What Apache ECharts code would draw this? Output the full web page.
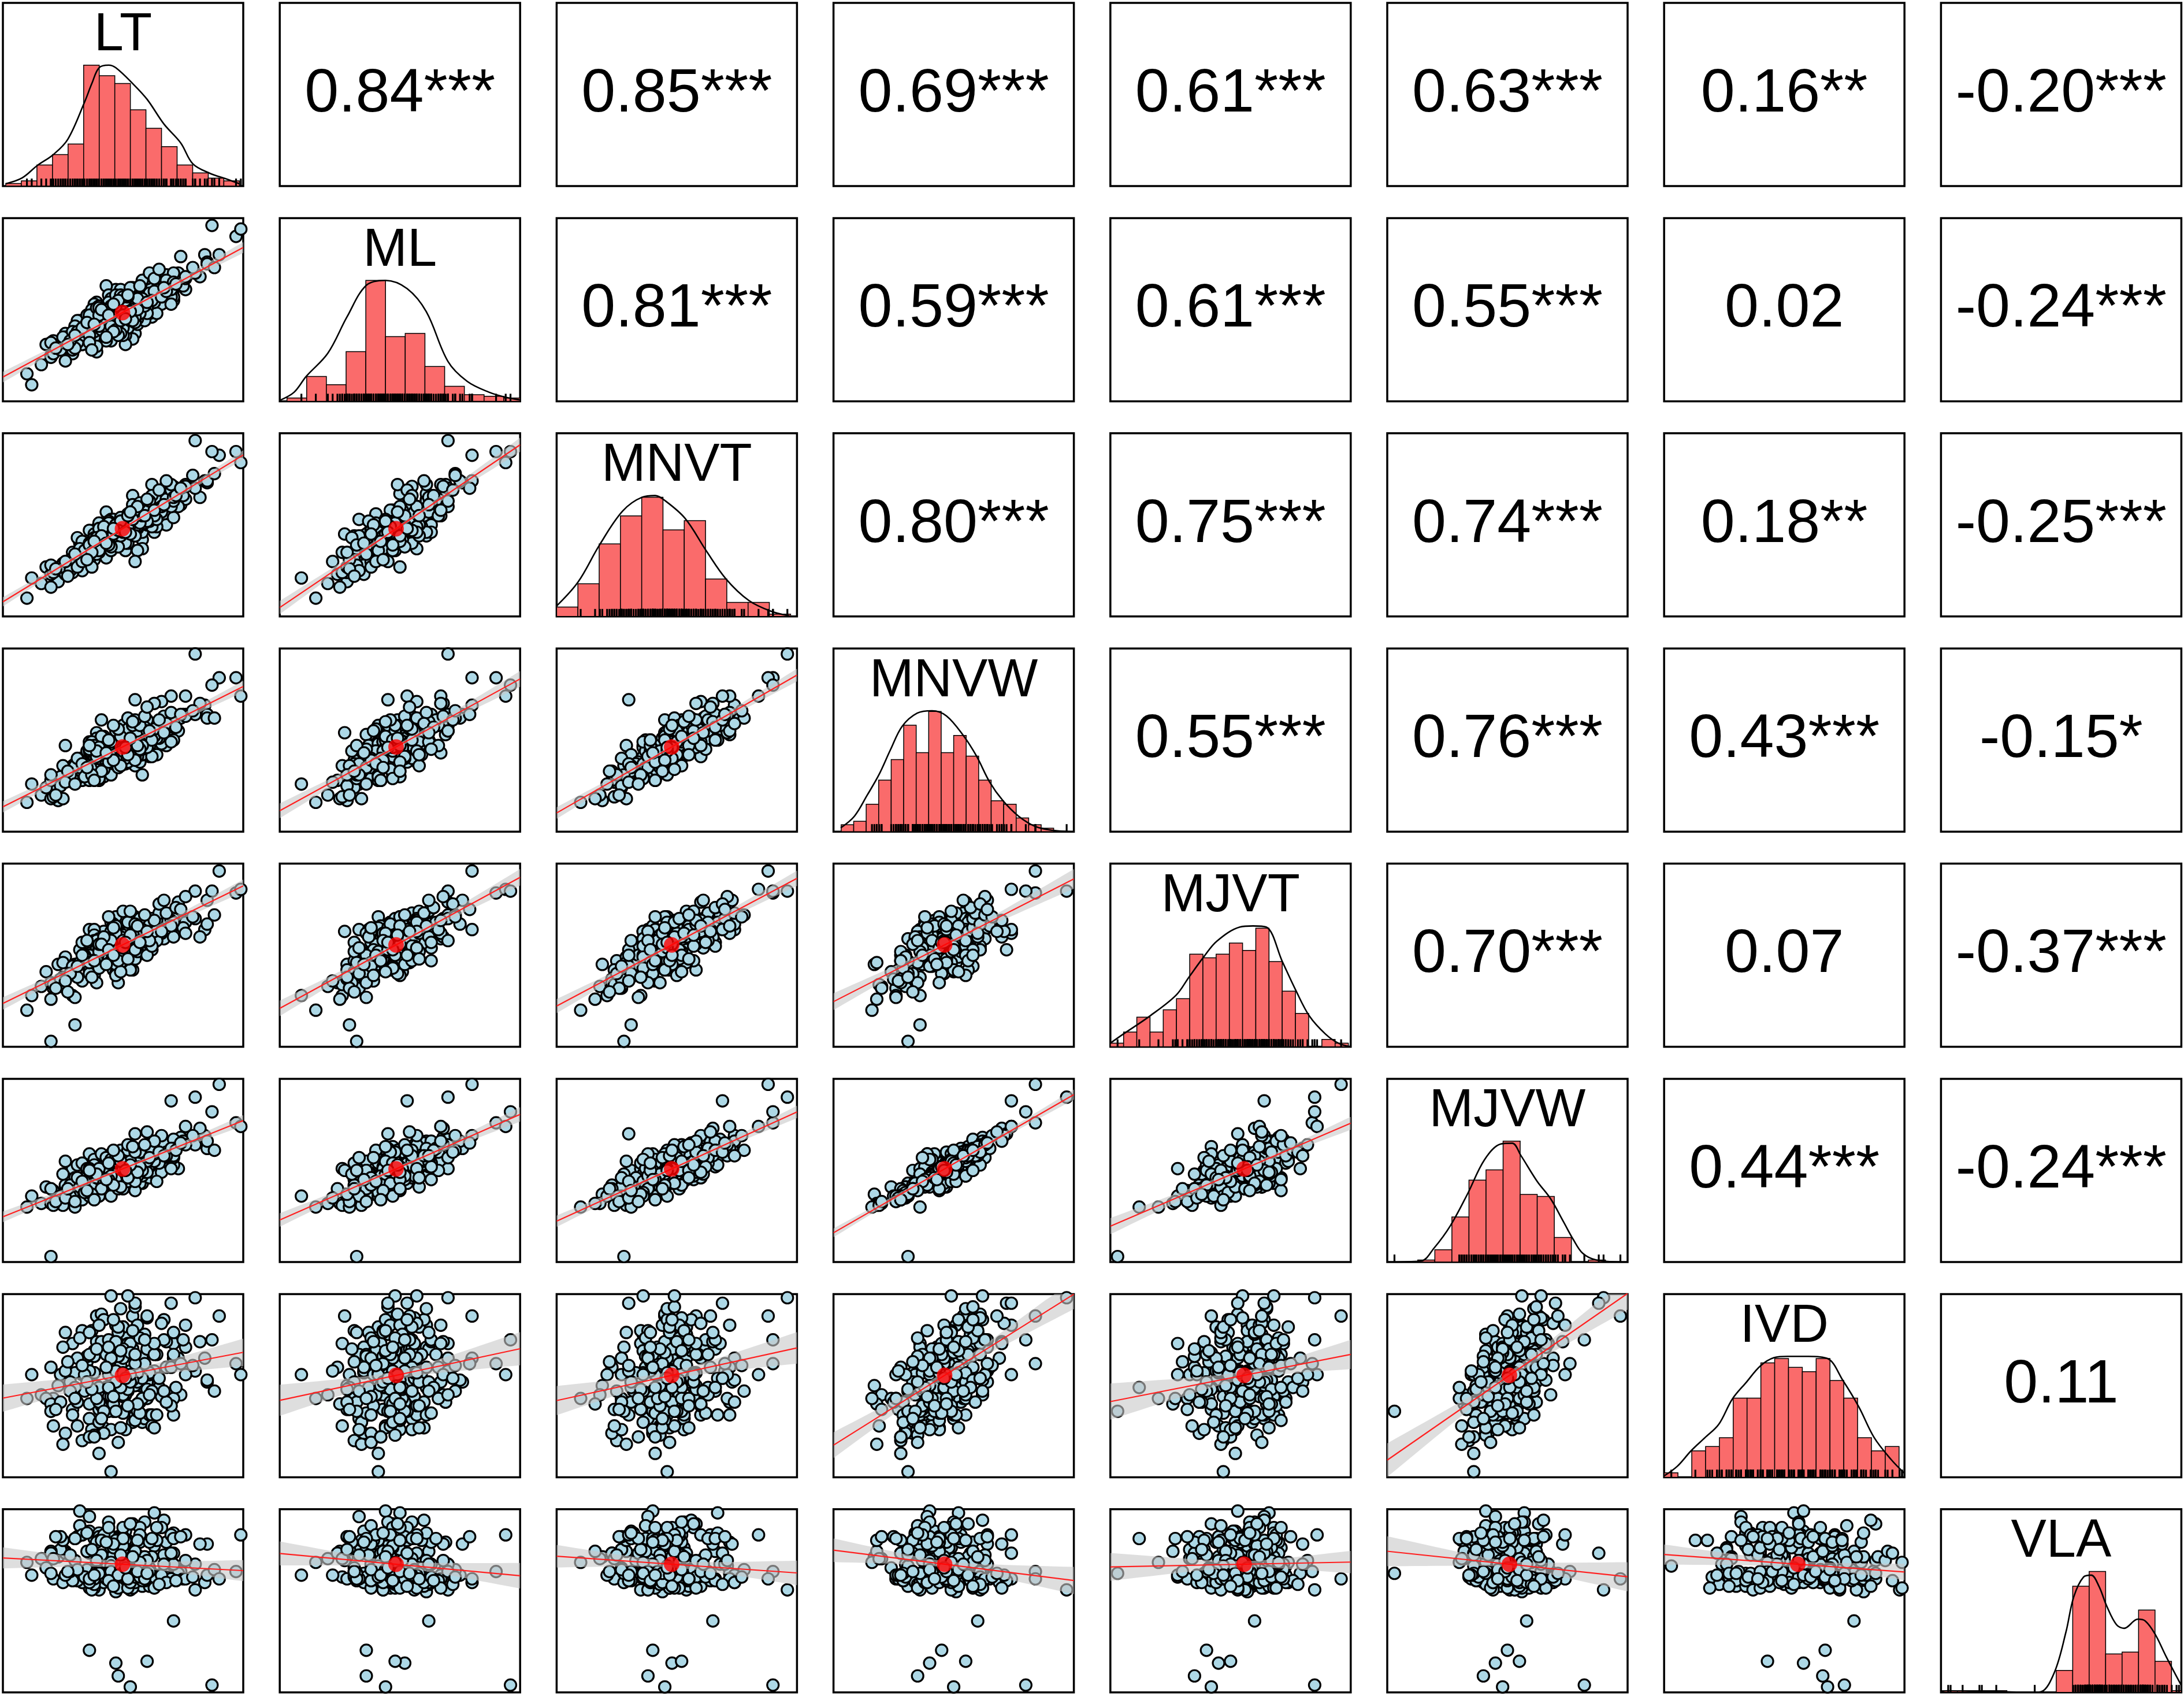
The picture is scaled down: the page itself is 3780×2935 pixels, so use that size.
<!DOCTYPE html>
<html>
<head>
<meta charset="utf-8">
<title>pairs panels</title>
<style>
html,body{margin:0;padding:0;background:#fff;}
#main{width:3780px;height:2935px;}
</style>
<script src="https://cdn.jsdelivr.net/npm/echarts@6/dist/echarts.min.js"></script>
</head>
<body>
<div id="main"></div>
<script>
// variable names (diagonal labels)
var varNames = ['LT','ML','MNVT','MNVW','MJVT','MJVW','IVD','VLA'];

// correlation labels, upper triangle, one array per row
var corrLT   = ['0.84***','0.85***','0.69***','0.61***','0.63***','0.16**','-0.20***'];
var corrML   = ['0.81***','0.59***','0.61***','0.55***','0.02','-0.24***'];
var corrMNVT = ['0.80***','0.75***','0.74***','0.18**','-0.25***'];
var corrMNVW = ['0.55***','0.76***','0.43***','-0.15*'];
var corrMJVT = ['0.70***','0.07','-0.37***'];
var corrMJVW = ['0.44***','-0.24***'];
var corrIVD  = ['0.11'];

// observations, read as position inside each panel (0 = left/bottom edge, 100 = right/top edge)
var LT = [51,63,32,58,50,74,29,47,36,59, 55,84,23,51,31,62,51,54,33,43, 76,47,56,21,58,39,42,54,38,57,
  39,68,42,54,16,60,43,71,26,48, 48,48,61,26,54,52,73,29,63,41, 50,18,67,40,53,41,85,35,51,45,
  71,46,68,36,52,38,62,37,51,57, 24,58,36,67,42,57,44,82,33,46, 42,64,51,49,20,50,38,56,71,39,
  48,44,71,25,60,38,85,48,62,33, 52,40,66,30,55,47,75,20,46,61, 37,50,44,65,31,56,53,58,38,88,
  45,50,25,60,41,55,41,68,36,48, 64,45,34,61,40,48,59,38,97,10, 44,56,49,29,70,53,43,58,46,76,
  35,52,44,39,63,50,56,21,59,40, 51,63,36,49,28,55,56,43,71,47, 32,54,39,60,47,45,80,40,50,24,
  80,55,20,30,90,70,52,45,99,40,55,12, 71,36,47,60,48,53,87,
  45,62,34,57,28,70,49,39,53,66, 42,31,58,47,76,22,55,44,61,36, 50,68,40,54,26,63,46,57,33,72,
  49,41,59,37,65,48,30,56,44,79, 35,52,60,43,67,27,53,46,38,74, 51];
var ML = [48,50,44,47,41,68,26,61,33,55, 37,80,28,45,44,62,44,47,31,63, 61,41,52,33,57,27,44,62,35,46,
  54,69,40,34,20,67,38,55,37,51, 40,37,57,35,53,40,70,28,51,42, 58,31,60,43,50,49,76,47,43,33,
  70,43,63,35,42,53,49,50,36,63, 29,47,46,55,38,44,58,68,31,53, 44,59,31,61,25,51,38,42,61,42,
  57,37,57,34,54,48,75,41,46,39, 40,46,53,41,50,49,63,24,55,48, 43,36,49,61,32,46,53,55,48,73,
  47,40,35,56,39,44,50,66,42,43, 48,56,36,59,50,38,44,46,90,15, 45,53,50,38,57,56,44,56,47,67,
  43,46,54,42,60,47,45,26,51,52, 55,54,47,37,31,45,56,33,65,52, 38,50,51,51,58,48,70,41,47,28,
  70,45,32,29,80,53,57,41,94,51,43,9, 62,36,52,48,36,44,96,
  52,55,41,48,33,61,58,30,62,57, 46,38,66,39,68,29,46,50,70,32, 57,60,47,44,22,67,38,63,40,64,
  44,50,52,28,72,55,36,50,47,73, 43,58,54,35,62,31,49,53,42,79, 45];
var MNVT = [40,67,40,42,49,61,35,44,38,53, 46,74,19,36,43,58,51,58,25,57, 64,46,52,27,37,45,47,66,31,48,
  48,72,36,44,18,55,32,71,29,39, 46,42,60,23,61,40,60,24,46,47, 54,27,56,35,52,45,73,40,49,53,
  68,47,50,31,50,40,72,27,45,46, 27,46,47,62,40,52,50,65,35,40, 46,49,44,46,16,52,45,36,67,34,
  48,40,54,29,50,41,74,50,49,41, 56,39,57,33,45,50,66,23,53,52, 38,41,45,63,31,48,47,54,43,78,
  38,51,28,52,43,44,45,64,34,47, 53,46,36,58,51,47,51,41,90,10, 52,49,54,30,60,54,44,56,49,72,
  37,46,51,43,55,48,52,24,54,48, 40,59,39,52,31,49,57,44,63,50, 37,51,42,58,50,36,70,41,46,27,
  96,30,28,31,88,69,49,46,84,48,44,21, 65,40,48,52,38,45,90,
  38,66,36,51,25,72,44,43,57,60, 49,27,55,50,71,26,58,41,63,39, 46,74,36,53,30,58,45,62,30,66,
  52,44,55,35,69,47,34,60,39,77, 31,55,64,40,61,22,57,48,41,70, 46];
var MNVW = [45,52,40,31,58,62,36,51,39,50, 36,69,17,47,38,50,41,56,28,48, 64,49,46,26,50,54,44,58,33,38,
  51,53,46,41,20,43,34,54,47,50, 48,43,41,33,50,39,55,27,47,34, 58,24,62,36,41,61,64,38,48,44,
  58,46,47,42,45,39,55,30,53,47, 30,42,49,63,30,53,46,70,39,38, 52,42,37,55,18,51,47,41,50,38,
  38,47,57,18,53,41,62,48,41,34, 56,40,48,37,44,46,64,28,44,47, 49,44,36,51,29,56,51,52,35,62,
  39,44,36,61,37,41,52,58,28,49, 51,44,37,52,46,35,46,47,84,16, 40,55,42,29,49,61,43,45,41,74,
  44,38,47,40,52,41,49,19,57,40, 40,56,44,36,33,58,55,37,61,42, 35,58,41,46,49,49,64,28,46,25,
  97,72,31,36,84,74,62,31,74,46,39,26, 60,45,40,55,35,50,80,
  41,50,30,58,31,65,36,44,49,71, 34,40,47,55,63,20,61,38,55,47, 44,59,29,60,27,70,39,45,37,57,
  52,33,63,31,61,56,26,47,50,66, 35,42,68,43,54,33,51,58,28,64, 46];
var MJVT = [52,66,53,59,44,70,28,57,64,60, 64,64,45,63,45,64,58,42,47,47, 68,71,65,32,51,63,48,57,39,68,
  46,70,63,52,33,59,57,73,49,41, 64,51,63,37,54,53,79,42,57,59, 74,41,64,56,44,53,80,46,54,52,
  72,42,63,51,66,58,70,39,62,54, 33,60,42,59,50,57,59,60,57,66, 49,69,52,65,26,63,42,59,68,54,
  53,47,70,46,52,64,67,65,53,36, 55,52,62,45,71,40,65,35,66,61, 46,47,58,73,38,68,54,66,61,72,
  63,56,38,55,53,48,57,64,50,60, 58,68,50,56,59,63,60,58,84,20, 58,64,46,44,69,53,50,59,67,62,
  48,60,48,48,66,61,52,34,60,54, 50,63,44,60,40,65,55,54,68,66, 46,53,58,67,62,55,70,52,58,37,
  85,53,3,12,96,64,68,47,86,56,62,28, 60,40,45,50,35,42,85,
  58,55,49,70,40,66,52,35,74,63, 60,44,64,39,82,32,67,71,58,46, 54,73,43,62,36,69,65,57,50,76,
  41,56,72,38,78,47,27,66,53,71, 58,48,63,45,80,30,61,50,47,75, 57];
var MJVW = [57,57,41,43,51,68,51,56,45,57, 47,69,37,41,53,48,56,63,34,45, 66,46,55,39,51,50,51,52,50,43,
  45,62,41,45,32,55,42,58,55,46, 52,46,46,42,48,59,51,35,60,44, 56,41,65,51,51,55,62,49,46,52,
  67,43,54,44,48,45,61,41,55,54, 35,47,59,57,41,51,52,73,54,43, 49,59,45,61,32,47,48,48,53,41,
  52,49,57,31,60,56,66,54,49,40, 61,47,49,46,39,53,66,40,49,52, 44,50,43,54,39,61,54,55,41,61,
  59,40,48,64,44,46,59,60,36,52, 44,50,44,53,52,43,49,53,76,30, 56,47,45,37,51,53,49,51,47,74,
  51,44,51,47,55,48,54,31,60,46, 46,59,51,42,42,62,47,57,62,48, 41,50,46,49,55,56,64,36,51,36,
  90,70,3,30,97,88,64,36,74,51,44,36, 58,50,45,55,40,48,82,
  47,61,38,60,36,62,41,48,55,69, 43,46,50,57,64,33,60,45,57,50, 51,58,36,63,35,66,42,52,44,61,
  55,40,64,37,60,58,33,49,54,69, 39,46,71,45,58,40,53,61,34,65, 50];
var IVD = [45,54,58,30,82,45,73,83,32,32, 34,65,50,78,28,50,47,88,20,49, 71,67,40,43,60,88,27,70,57,41,
  74,41,69,30,45,52,47,43,79,63, 62,71,34,24,70,47,65,37,58,45, 82,43,86,37,53,89,52,63,45,26,
  73,49,74,58,73,57,34,26,67,50, 56,65,40,75,24,57,58,74,80,36, 86,67,37,92,40,44,48,57,34,49,
  65,44,65,18,70,69,53,53,28,56, 69,41,44,57,31,52,75,60,70,56, 80,35,36,49,41,83,58,60,23,47,
  65,45,71,87,39,50,74,60,22,79, 34,44,47,57,83,19,62,66,62,43, 56,52,61,34,39,73,49,54,40,83,
  66,48,75,50,27,70,36,28,78,41, 26,67,58,49,52,93,57,67,67,36, 76,53,43,48,52,99,58,13,65,41,
  98,95,36,49,88,95,99,3,56,49,62,56, 79,67,58,43,66,68,75,
  65,47,56,76,47,60,27,70,52,84, 36,65,43,74,56,37,67,49,45,79, 57,41,30,80,58,73,44,35,61,49,
  69,32,75,48,54,82,43,40,71,61, 52,39,88,60,47,63,56,86,22,62, 54];
var VLA = [88,98,99,58,82,66,63,55,96,93,80,60, 74,67,85,59,81,92,63,70,86,79, 75,62,84,72,63,77,65,90,61,82,
  67,61,73,64,87,69,77,66,62,85, 58,76,73,83,65,62,80,84,71,68, 94,56,62,74,81,67,83,79,70,64,
  63,88,73,84,65,78,61,82,78,70, 57,75,70,86,66,81,63,75,60,83, 64,72,77,58,61,65,87,71,84,62,
  76,83,70,57,64,79,74,60,68,63, 90,72,66,84,62,76,65,82,56,78, 87,64,61,74,66,73,59,67,62,85,
  60,66,75,63,84,61,76,65,90,69, 63,68,87,57,74,62,66,71,93,83, 64,61,86,56,63,67,79,62,77,60,
  65,72,58,80,64,73,61,85,70,63, 60,75,66,77,67,62,84,64,91,57, 66,72,63,71,70,83,90,85,56,61,
  65,84,62,76,57,69,86,66,60,64, 39,23,16,17,9,3,4,
  66,84,63,71,75,62,65,82,60,64, 86,67,61,83,72,85,63,90,66,62, 84,60,65,74,64,57,81,63,86,61,
  67,83,62,78,59,64,84,66,61,63, 87,62,65,82,70,66,92,58,64,85, 68];

// histogram bins: first edge, bin width, counts
var histStart = [1.2, 3.0, 0, 3.2, 0, 12.7, 0, 0];
var histWidth = [6.48, 8.2, 8.85, 5.2, 5.5, 7.1, 5.75, 6.85];
var histLT   = [1,2,8,12,16,46,42,39,29,22,15,8,5,3,2];
var histML   = [2,15,10,30,73,39,41,21,9,4,3,2];
var histMNVT = [4,14,31,43,51,37,41,16,6,6,1];
var histMNVW = [2,3,8,15,21,31,23,35,23,28,22,15,9,8,4,2,1,0];
var histMJVT = [1,4,8,4,10,13,25,24,25,28,26,32,23,15,9,0,2,1];
var histMJVW = [1,6,22,40,45,59,33,32,12,0,1,0];
var histIVD  = [1,0,6,7,9,18,18,26,27,25,24,27,22,18,9,6,7];
var histVLA  = [1,1,1,1,0,0,0,12,58,66,21,22,45,17,1];

// density curves, [x, height in counts]
var densLT = [[1.2,0.9],[8,3.1],[14.3,7.8],[21,12],[27,17.8],[34,32],[37,39],[40,45],[44,46],[47,45],
  [54,39],[60,33],[67,23.6],[74,16.4],[79,8.5],[86,4.9],[93,2.7],[98.4,0.9]];
var densML = [[0.4,0.8],[6,5.5],[11,15],[20,29],[28,51],[36,70],[44,73],[53,68],[61,54],[70,24],
  [78,12],[87,5.5],[94,2.4],[100,0.8]];
var densMNVT = [[0,4.5],[8.9,14.7],[17.8,30.5],[27.4,45],[35.6,51],[41,51.7],[44.5,50],[53.4,42],
  [62.3,28],[70.5,16],[80,6.8],[89,2.3],[97,0.2]];
var densMNVW = [[3,1.1],[8.7,4.5],[14,10.6],[19,16.7],[23.8,24],[28.6,30.7],[34.8,34.5],[41,35.2],
  [47,33.7],[54,28],[59.5,22],[65,14.4],[70.5,9],[77,4.5],[84,1.5],[91,0.4],[99,0]];
var densMJVT = [[0,1],[5.5,3.5],[16.4,8.3],[27.3,13.9],[32.7,18.8],[38.9,24.3],[44.3,28.5],[53.9,32.3],
  [59.3,32.6],[64.8,32.3],[71.6,22.9],[77.1,15.3],[82.8,8.3],[89.4,3.5],[94.8,1],[100,0]];
var densMJVW = [[0,0],[14,0.5],[19.4,6.7],[26.2,17.6],[33.3,33],[40.5,50],[47.2,57.6],[52,58],[55.6,52],
  [62.3,39.5],[67.9,31],[73.4,19.5],[77.4,11],[81.3,4.3],[87,1],[100,0]];
var densIVD = [[0,0.3],[5.5,2.5],[11.2,6],[17,9],[22.7,12],[28.4,17.8],[34.2,21.6],[40,25.3],[45.7,27.2],
  [51.4,27.5],[60,27.5],[68,27],[74.4,22],[81,16],[87.4,9],[94.5,4],[100,0.9]];
var densVLA = [[0,0.5],[2.8,0.9],[12,0.7],[23.8,0.5],[36.7,0],[41.5,0.3],[47.2,11],[52,33],[55.2,52],
  [59.3,63],[62.5,64],[65.7,58],[69,47],[73,37],[76.2,35],[81.9,40],[85,39],[89,32],[93.9,19],[100,3.8]];

(function(){
	var columns = [LT, ML, MNVT, MNVW, MJVT, MJVW, IVD, VLA];
	var corrRows = [corrLT, corrML, corrMNVT, corrMNVW, corrMJVT, corrMJVW, corrIVD];
	var hists = [histLT, histML, histMNVT, histMNVW, histMJVT, histMJVW, histIVD, histVLA];
	var denss = [densLT, densML, densMNVT, densMNVW, densMJVT, densMJVW, densIVD, densVLA];

	// layout
	var GRID_LEFT = 5, COL_STEP = 479.2, PANEL_W = 416;
	var GRID_TOP = 5, ROW_STEP = 372.4, PANEL_H = 317;
	var FONT = '"Liberation Sans", Arial, Helvetica, sans-serif';

	function fitLine(xs, ys){
		var n = Math.min(xs.length, ys.length), mx = 0, my = 0, i;
		for(i=0;i<n;i++){ mx += xs[i]; my += ys[i]; }
		mx /= n; my /= n;
		var sxx = 0, sxy = 0;
		for(i=0;i<n;i++){ sxx += (xs[i]-mx)*(xs[i]-mx); sxy += (xs[i]-mx)*(ys[i]-my); }
		var b = sxy/sxx, a = my - b*mx, sse = 0;
		for(i=0;i<n;i++){ var e = ys[i]-a-b*xs[i]; sse += e*e; }
		return {a:a, b:b, mx:mx, my:my, sxx:sxx, n:n, s:Math.sqrt(sse/(n-2))};
	}

	function makeBand(idx, poly){
		return {type:'custom', xAxisIndex:idx, yAxisIndex:idx, data:[[50,50]], silent:true, z:3,
			renderItem:function(params, api){
				var cs = params.coordSys;
				var pts = poly.map(function(p){
					var q = api.coord(p);
					return [q[0], Math.max(cs.y, Math.min(cs.y+cs.height, q[1]))];
				});
				return {type:'polygon', shape:{points:pts}, style:{fill:'rgba(200,200,200,0.6)'}};
			}};
	}

	var grids = [], xAxes = [], yAxes = [], series = [], graphics = [];
	var nv = varNames.length;

	for(var r=0;r<nv;r++){
		for(var c=0;c<nv;c++){
			var idx = r*nv + c;
			var panelLeft = GRID_LEFT + c*COL_STEP, panelTop = GRID_TOP + r*ROW_STEP;
			grids.push({left:panelLeft, top:panelTop, width:PANEL_W, height:PANEL_H, show:true,
				borderColor:'#000', borderWidth:3.5, backgroundColor:'transparent'});
			var ymax = 100;
			if(r == c){
				var peak = Math.max.apply(null, hists[r]);
				denss[r].forEach(function(p){ if(p[1] > peak) peak = p[1]; });
				ymax = peak/0.66;
			}
			xAxes.push({type:'value', gridIndex:idx, min:0, max:100, show:false});
			yAxes.push({type:'value', gridIndex:idx, min:0, max:ymax, show:false});

			if(r > c){
				// scatter of column c (x) against row r (y)
				var xs = columns[c], ys = columns[r];
				var pts = [];
				for(var k=0;k<Math.min(xs.length, ys.length);k++) pts.push([xs[k], ys[k]]);
				series.push({type:'scatter', xAxisIndex:idx, yAxisIndex:idx, data:pts, symbol:'circle', symbolSize:20,
					itemStyle:{color:'#add8e6', borderColor:'#000', borderWidth:3.2, opacity:1}, silent:true, z:2});
				var fit = fitLine(xs, ys);
				var upper = [], lower = [];
				for(var xv=0; xv<=100; xv+=4){
					var yh = fit.a + fit.b*xv;
					var se = 1.97*fit.s*Math.sqrt(1/fit.n + (xv-fit.mx)*(xv-fit.mx)/fit.sxx);
					upper.push([xv, yh+se]);
					lower.unshift([xv, yh-se]);
				}
				series.push(makeBand(idx, upper.concat(lower)));
				series.push({type:'line', xAxisIndex:idx, yAxisIndex:idx, data:[[0, fit.a],[100, fit.a+fit.b*100]],
					symbol:'none', lineStyle:{color:'#ff2020', width:2.2}, silent:true, z:4});
				series.push({type:'scatter', xAxisIndex:idx, yAxisIndex:idx, data:[[fit.mx, fit.my]], symbol:'circle',
					symbolSize:27, itemStyle:{color:'#ff0000'}, silent:true, z:5});
			}else if(r == c){
				var start = histStart[r], bw = histWidth[r];
				var bins = [];
				hists[r].forEach(function(cnt, i){ if(cnt > 0) bins.push([start+i*bw, cnt, start+(i+1)*bw]); });
				series.push({type:'custom', xAxisIndex:idx, yAxisIndex:idx, data:bins, silent:true, z:2,
					renderItem:function(params, api){
						var p0 = api.coord([api.value(0), api.value(1)]);
						var p1 = api.coord([Math.min(api.value(2), 100), 0]);
						return {type:'rect', shape:{x:p0[0], y:p0[1], width:p1[0]-p0[0], height:p1[1]-p0[1]},
							style:{fill:'#fa6b6b', stroke:'#000', lineWidth:1.5}};
					}});
				series.push({type:'custom', xAxisIndex:idx, yAxisIndex:idx, silent:true, z:3,
					data:columns[r].map(function(v){ return [v, 0]; }),
					renderItem:function(params, api){
						var p = api.coord([api.value(0), 0]);
						return {type:'line', shape:{x1:p[0], y1:p[1], x2:p[0], y2:p[1]-13},
							style:{stroke:'#000', lineWidth:3.2}};
					}});
				series.push({type:'line', xAxisIndex:idx, yAxisIndex:idx, data:denss[r], smooth:0.35, symbol:'none',
					lineStyle:{color:'#000', width:2.6}, silent:true, z:4});
				graphics.push({type:'text', x:panelLeft+PANEL_W/2, y:panelTop+57, z:100,
					style:{text:varNames[r], fontSize:92, fontFamily:FONT, fill:'#000',
						textAlign:'center', textVerticalAlign:'middle'}});
			}else{
				graphics.push({type:'text', x:panelLeft+PANEL_W/2, y:panelTop+PANEL_H/2, z:100,
					style:{text:corrRows[r][c-r-1], fontSize:106, fontFamily:FONT, fill:'#000',
						textAlign:'center', textVerticalAlign:'middle'}});
			}
		}
	}

	var chart = echarts.init(document.getElementById('main'));
	chart.setOption({
		animation:false,
		backgroundColor:'#fff',
		grid:grids,
		xAxis:xAxes,
		yAxis:yAxes,
		series:series,
		graphic:graphics
	});
})();
</script>
</body>
</html>
